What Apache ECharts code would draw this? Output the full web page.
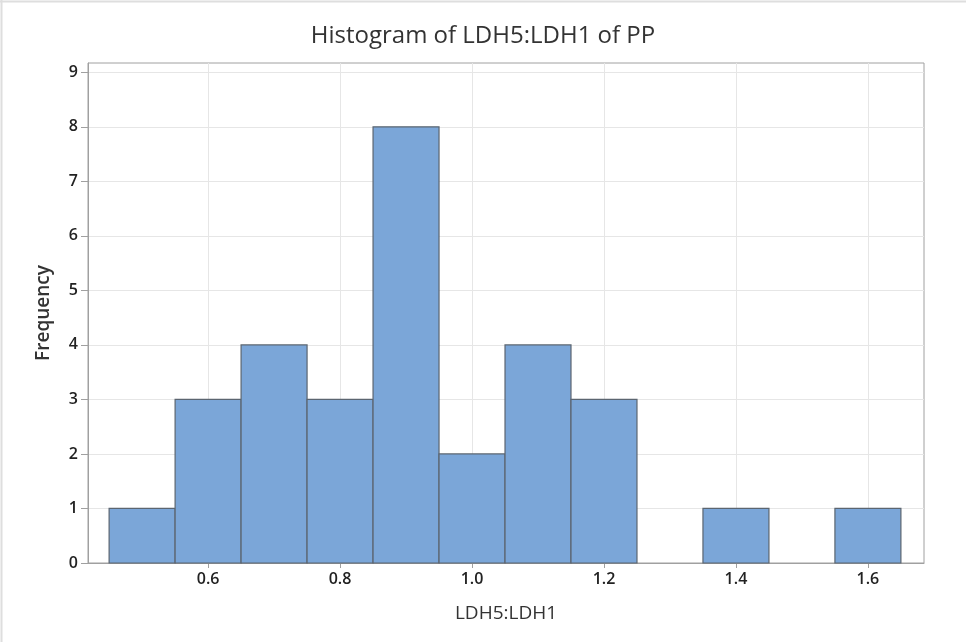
<!DOCTYPE html>
<html>
<head>
<meta charset="utf-8">
<script src="https://cdn.jsdelivr.net/npm/echarts@6/dist/echarts.min.js"></script>
<style>
  html, body { margin: 0; padding: 0; background: #fff; }
  #main { width: 966px; height: 642px; }
</style>
</head>
<body>
<div id="main"></div>
<script>
// bin edges (lower, upper) and counts
var binStart = [0.45, 0.55, 0.65, 0.75, 0.85, 0.95, 1.05, 1.15, 1.25, 1.35, 1.45, 1.55];
var binEnd   = [0.55, 0.65, 0.75, 0.85, 0.95, 1.05, 1.15, 1.25, 1.35, 1.45, 1.55, 1.65];
var counts   = [1, 3, 4, 3, 8, 2, 4, 3, 0, 1, 0, 1];

var xTicks = [0.6, 0.8, 1.0, 1.2, 1.4, 1.6];
var yTicks = [0, 1, 2, 3, 4, 5, 6, 7, 8, 9];

var histData = [];
for (var i = 0; i < counts.length; i++) {
    if (counts[i] > 0) {
        histData.push([binStart[i], binEnd[i], counts[i]]);
    }
}

var labelFont = 'Open Sans, Noto Sans, sans-serif';

var option = {
    backgroundColor: '#ffffff',
    animation: false,
    title: {
        text: 'Histogram of LDH5:LDH1 of PP',
        left: 'center',
        top: 19,
        textStyle: {
            fontFamily: labelFont,
            fontSize: 24,
            fontWeight: 'normal',
            color: '#333'
        }
    },
    graphic: [
        { type: 'line', shape: { x1: 0, y1: 1.5, x2: 966, y2: 1.5 }, style: { stroke: '#dedede', lineWidth: 2 } },
        { type: 'line', shape: { x1: 1.5, y1: 0, x2: 1.5, y2: 642 }, style: { stroke: '#dedede', lineWidth: 2 } }
    ],
    grid: {
        left: 88,
        right: 42,
        top: 63,
        bottom: 79,
        show: true,
        borderColor: '#a0a0a0',
        borderWidth: 1
    },
    xAxis: {
        type: 'value',
        min: 0.418,
        max: 1.685,
        name: 'LDH5:LDH1',
        nameLocation: 'middle',
        nameGap: 41,
        nameTextStyle: { fontFamily: labelFont, fontSize: 19, color: '#333' },
        axisLine: { show: true, lineStyle: { color: '#a0a0a0' } },
        axisTick: { show: true, length: 5, customValues: xTicks, lineStyle: { color: '#a0a0a0' } },
        axisLabel: {
            customValues: xTicks,
            margin: 8,
            fontFamily: labelFont,
            fontSize: 16,
            fontWeight: 600,
            color: '#222',
            formatter: function (v) { return v.toFixed(1); }
        },
        splitLine: { show: true, lineStyle: { color: '#e6e6e6' } }
    },
    yAxis: {
        type: 'value',
        min: 0,
        max: 9.17,
        name: 'Frequency',
        nameLocation: 'middle',
        nameGap: 35,
        nameRotate: 90,
        nameTextStyle: { fontFamily: labelFont, fontSize: 19, fontWeight: 600, color: '#333' },
        axisLine: { show: true, lineStyle: { color: '#a0a0a0' } },
        axisTick: { show: true, length: 7, customValues: yTicks, lineStyle: { color: '#a0a0a0' } },
        axisLabel: {
            customValues: yTicks,
            margin: 10,
            fontFamily: labelFont,
            fontSize: 16,
            fontWeight: 600,
            color: '#222'
        },
        splitLine: { show: true, lineStyle: { color: '#e6e6e6' } }
    },
    series: [
        {
            type: 'custom',
            data: histData,
            encode: { x: [0, 1], y: 2 },
            renderItem: function (params, api) {
                var p0 = api.coord([api.value(0), api.value(2)]);
                var p1 = api.coord([api.value(1), 0]);
                return {
                    type: 'rect',
                    shape: { x: p0[0], y: p0[1], width: p1[0] - p0[0], height: p1[1] - p0[1] },
                    style: { fill: '#7ba6d8', stroke: '#5b6570', lineWidth: 1.2 }
                };
            }
        }
    ]
};

var myChart = echarts.init(document.getElementById('main'));
myChart.setOption(option);
</script>
</body>
</html>
